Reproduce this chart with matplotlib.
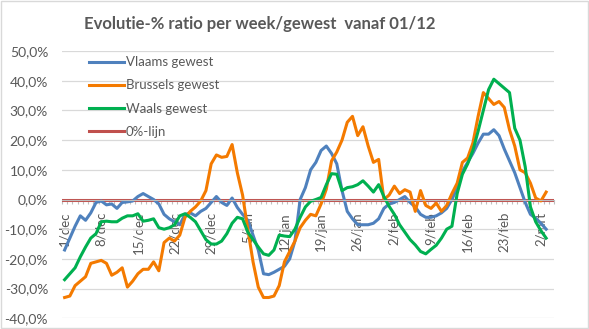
import matplotlib
matplotlib.use("Agg")
import matplotlib.pyplot as plt
from matplotlib.patches import Rectangle
from matplotlib.ticker import FuncFormatter, MultipleLocator
import numpy as np

plt.rcParams['font.family'] = ['Lato', 'DejaVu Sans']

# daily categories 1/dec .. 3/mrt
n_days = 93
tick_pos = [0, 7, 14, 21, 28, 35, 42, 49, 56, 63, 70, 77, 84, 91]
tick_labels = ['1/dec', '8/dec', '15/dec', '22/dec', '29/dec', '5/jan', '12/jan',
               '19/jan', '26/jan', '2/feb', '9/feb', '16/feb', '23/feb', '2/mrt']

vlaams = [-17, -13, -9, -5.5, -7, -4.5, -1, -0.5, -1.8, -1.5,
          -3, -1, -0.8, -0.5, 1, 2, 1, 0, -1.5, -5,
          -6.5, -7.5, -8.5, -5, -4.5, -5.5, -4, -3, -1, 1,
          -1, -2, 0.5, -2.7, -5, -7, -12, -17, -25, -25.3,
          -24.5, -23.5, -22.5, -20, -14, 0, 4, 10, 12.5, 16.5,
          18, 15.5, 12, 3, -4, -6.5, -8.5, -8.5, -8.5, -8,
          -6.5, -3, -1.5, -1, 0, 1, -1, -2.5, -5, -6,
          -6, -5.5, -4.5, -3, 0, 4, 9.5, 12.5, 15.5, 19,
          22, 22, 23.5, 21.5, 17, 13, 9, 4, -1, -5,
          -6.3, -8, -10]

brussel = [-33, -32.5, -29, -27.5, -26, -21.5, -21, -20.5, -21.5, -25.5,
           -24.5, -23, -29.5, -27.5, -25, -23.5, -23.5, -21, -24, -14.5,
           -13, -14, -12, -6, -4, -2.5, -0.5, 3, 12, 15,
           14.2, 14.5, 18.5, 9, 1.5, -10, -21, -29.5, -33, -33,
           -32.5, -29, -21, -17.5, -14, -9.5, -7, -5, -5.5, -1.5,
           3.5, 13, 16, 20, 26, 28, 21.5, 24.5, 18, 12.5,
           13.5, 0, 1.5, 4.5, 2, 3.3, 2.5, -4, 3, -2,
           -3, -1.2, -4, -2, 2, 5.5, 12.5, 14, 19, 28,
           36, 34, 32, 33, 31, 23.5, 18, 10, 9, 5.5,
           0.5, -0.5, 2.5]

waals = [-27, -25, -23, -19.3, -16, -13, -11.5, -7.5, -7.3, -7.5,
         -7.5, -6.3, -5.5, -5.5, -4.8, -7.3, -7, -6.5, -9.5, -10,
         -9.5, -8.5, -5.5, -4.8, -6, -7.5, -10.5, -13.5, -15, -15,
         -14, -11.5, -8, -6, -6.5, -11, -13.5, -16, -18.3, -18.8,
         -17, -12, -12.3, -12.5, -10, -6, -2.5, -0.6, 0, 0.7,
         5, 8.7, 8.5, 3, 4, 4.3, 5, 6.3, 4.5, 2.5,
         5, 1, -2.3, -5, -8.5, -11, -13.5, -15.3, -17.5, -18.3,
         -16.8, -15.4, -13, -10, -9, 2, 8.5, 12, 16.5, 23,
         30, 37, 40.5, 39, 37.5, 36, 24, 20, 11, -2.5,
         -7.5, -10.5, -13]

nul_lijn = 0.0

grey = '#595959'
days = np.arange(n_days)

fig = plt.figure(figsize=(5.89, 3.29), dpi=100)
ax = fig.add_axes([62/589, 1-318.3/329, 492/589, (318.3-51)/329])

ax.plot(days, np.array(vlaams)/100, color='#4F81BD', lw=2.2, label='Vlaams gewest')
ax.plot(days, np.array(brussel)/100, color='#F47A00', lw=2.2, label='Brussels gewest')
ax.plot(days, np.array(waals)/100, color='#00B050', lw=2.2, label='Waals gewest')
ax.axhline(nul_lijn, color='#C0504D', lw=2.2, label='0%-lijn', zorder=1.5)

ax.set_ylim(-0.4, 0.5)
ax.set_xlim(-0.5, n_days + 0.5)
ax.yaxis.set_major_locator(MultipleLocator(0.1))
ax.yaxis.set_major_formatter(FuncFormatter(lambda v, p: f"{v*100:.1f}%".replace('.', ',')))
ax.grid(axis='y', color='#D9D9D9', lw=0.9)
ax.set_axisbelow(True)
for s in ['left', 'right', 'top']:
    ax.spines[s].set_visible(False)
ax.spines['bottom'].set_position(('data', 0))
ax.spines['bottom'].set_color('#BFBFBF')

ax.set_xticks(tick_pos)
ax.set_xticklabels(tick_labels, rotation=90, va='top', ha='center')
ax.set_xticks(np.arange(-0.5, n_days + 1, 1), minor=True)
ax.tick_params(axis='x', which='major', length=0, pad=9, labelsize=9.5, labelcolor=grey)
ax.tick_params(axis='x', which='minor', length=3, color='#BFBFBF', width=0.8)
ax.tick_params(axis='y', length=0, pad=10, labelsize=10, labelcolor=grey)

leg = ax.legend(loc='upper left', bbox_to_anchor=(0.045, 1.0), frameon=False,
                handlelength=2.65, handletextpad=0.1, labelspacing=0.85,
                borderaxespad=0, fontsize=9.5)
for t in leg.get_texts():
    t.set_color(grey)

fig.text(260/589, 1-24/329, 'Evolutie-% ratio per week/gewest  vanaf 01/12',
         ha='center', va='center', fontsize=12, fontweight='bold', color=grey)

fig.patches.append(Rectangle((0.002, 0.003), 0.996, 0.994, transform=fig.transFigure,
                             fill=False, edgecolor='#D9D9D9', lw=1))

fig.savefig('out.png', dpi=100)
